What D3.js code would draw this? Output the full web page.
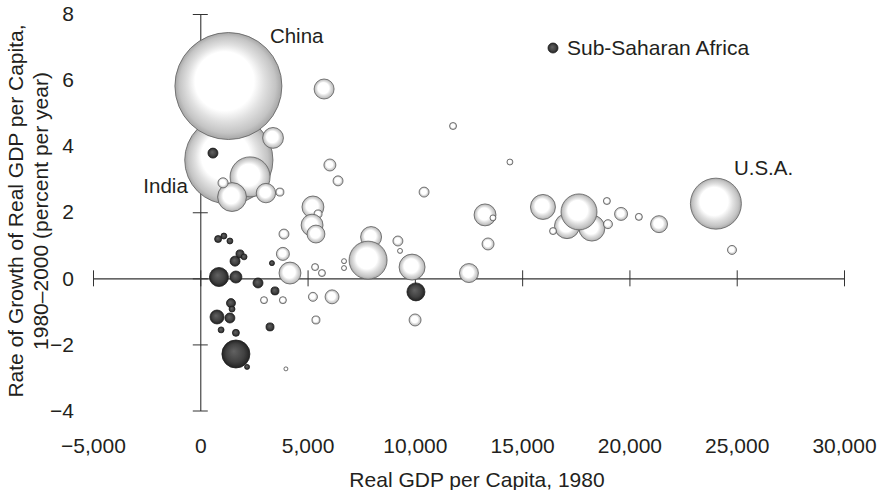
<!DOCTYPE html>
<html><head><meta charset="utf-8">
<script src="https://cdn.jsdelivr.net/npm/d3@7"></script>
<style>
body{margin:0;background:#fff}
svg{display:block}
text{font-family:"Liberation Sans",Arial,Helvetica,sans-serif;fill:#231f20}
</style>
</head><body>
<svg id="chart" width="879" height="490"></svg>
<script>
// ---- data ----
const xTickValues = [-5000, 0, 5000, 10000, 15000, 20000, 25000, 30000];
const yTickValues = [-4, -2, 0, 2, 4, 6, 8];
// Real GDP per capita 1980 (US$)
const gdp1980 = [1330, 1310, 3390, 2320, 1480, 1060, 3060, 3710, 5770, 6040,
  6420, 11780, 14430, 10430, 5250, 5490, 5210, 5390, 13270, 13640,
  13410, 3900, 3850, 4180, 5350, 5670, 6700, 6700, 7960, 7820,
  9210, 9310, 9870, 12520, 3850, 5250, 6140, 5390, 10010, 3990,
  2970, 15970, 17090, 18250, 17650, 16440, 18950, 19000, 19610, 20440,
  21380, 24030, 24780,
  590, 830, 1100, 1380, 1620, 1850, 2040, 870, 1660, 2690,
  3340, 3480, 1430, 1480, 780, 1380, 970, 1660, 3250, 1660,
  2180, 10050];
// growth of real GDP per capita 1980-2000 (% per year)
const growthRate = [3.58, 5.82, 4.25, 3.07, 2.46, 2.89, 2.58, 2.61, 5.73, 3.43,
  2.95, 4.61, 3.52, 2.61, 2.16, 1.95, 1.61, 1.34, 1.92, 1.83,
  1.04, 1.34, 0.74, 0.16, 0.34, 0.16, 0.52, 0.31, 1.25, 0.55,
  1.13, 0.83, 0.34, 0.16, -0.66, -0.56, -0.56, -1.26, -1.26, -2.74,
  -0.66, 2.16, 1.58, 1.52, 2.01, 1.43, 2.34, 1.64, 1.95, 1.86,
  1.64, 2.26, 0.86,
  3.79, 1.19, 1.28, 1.13, 0.52, 0.74, 0.65, 0.04, 0.04, -0.14,
  0.46, -0.38, -0.75, -0.93, -1.17, -1.20, -1.56, -1.65, -1.47, -2.29,
  -2.68, -0.41];
// population 1980 (millions) -> bubble area
const population = [680, 1000, 38, 140, 73, 9, 33, 5.6, 35, 12.6,
  8.7, 4.3, 3.1, 8.7, 42, 5.6, 42, 28, 42, 3.1,
  12.6, 8.7, 14.8, 42, 4.3, 4.3, 2.2, 2.2, 38.5, 126,
  8.7, 2.2, 59, 31.5, 4.3, 7.1, 17, 5.6, 12.6, 1.4,
  4.3, 54.6, 54.6, 59, 113, 4.3, 4.3, 7.1, 14.8, 4.3,
  25.2, 227, 7.1,
  8.7, 4.3, 3.1, 3.1, 8.7, 5.6, 3.1, 31.5, 12.6, 8.7,
  2.2, 5.6, 7.1, 3.1, 17, 8.7, 3.1, 4.3, 5.6, 68.5,
  2.2, 28.3];
// 1 = Sub-Saharan Africa
const subSaharan = [0,0,0,0,0,0,0,0,0,0, 0,0,0,0,0,0,0,0,0,0,
  0,0,0,0,0,0,0,0,0,0, 0,0,0,0,0,0,0,0,0,0,
  0,0,0,0,0,0,0,0,0,0, 0,0,0,
  1,1,1,1,1,1,1,1,1,1, 1,1,1,1,1,1,1,1,1,1, 1,1];
const labelNames = ["China", "India", "U.S.A."];
const labelIndex = [1, 0, 51];
const legendLabel = "Sub-Saharan Africa";
const xTitle = "Real GDP per Capita, 1980";
const yTitleLines = ["Rate of Growth of Real GDP per Capita,", "1980\u20132000 (percent per year)"];

const points = gdp1980.map((g, i) => ({gdp: g, growth: growthRate[i], pop: population[i], ssa: subSaharan[i]}));

// ---- chart ----
const svg = d3.select("#chart");
const x = d3.scaleLinear().domain([-5000, 30000]).range([93, 844]);
const y = d3.scaleLinear().domain([-4, 8]).range([410.5, 14]);
const r = d3.scaleSqrt().domain([0, 1000]).range([0, 53.5]);
const fmt = d3.format(",");

const defs = svg.append("defs");
const lg = defs.append("radialGradient").attr("id", "light")
  .attr("cx", "50%").attr("cy", "50%").attr("r", "50%").attr("fx", "42%").attr("fy", "40%");
[[0, "#ffffff"], [0.55, "#ffffff"], [0.72, "#e0e0e0"], [0.9, "#c4c4c4"], [1, "#a6a6a6"]]
  .forEach(s => lg.append("stop").attr("offset", s[0]).attr("stop-color", s[1]));
const dg = defs.append("radialGradient").attr("id", "dark")
  .attr("cx", "50%").attr("cy", "50%").attr("r", "50%").attr("fx", "42%").attr("fy", "40%");
[[0, "#626262"], [0.65, "#414141"], [1, "#222222"]]
  .forEach(s => dg.append("stop").attr("offset", s[0]).attr("stop-color", s[1]));

// axis lines through origin
const xLine = svg.append("g").attr("transform", `translate(0,${y(0)})`)
  .call(d3.axisBottom(x).tickValues(xTickValues).tickFormat("").tickSize(8).tickSizeOuter(0));
xLine.select(".domain").attr("stroke", "#333").attr("stroke-width", 1.1);
xLine.selectAll(".tick line").attr("y1", -8).attr("y2", 8).attr("stroke", "#333");

const yLine = svg.append("g").attr("transform", `translate(${x(0)},0)`)
  .call(d3.axisLeft(y).tickValues(yTickValues).tickFormat("").tickSize(7.5).tickSizeOuter(0));
yLine.select(".domain").attr("stroke", "#333").attr("stroke-width", 1.1);
yLine.selectAll(".tick line").attr("x1", -7.5).attr("x2", 7.5).attr("stroke", "#333");

// tick labels at the frame edges
const xLab = svg.append("g").attr("transform", "translate(0,435)")
  .call(d3.axisBottom(x).tickValues(xTickValues).tickFormat(fmt).tickSize(0).tickPadding(3));
xLab.select(".domain").remove();
xLab.selectAll("text").attr("font-size", 21).attr("font-family", null).style("fill", "#231f20");

const yLab = svg.append("g").attr("transform", "translate(77,0)")
  .call(d3.axisLeft(y).tickValues(yTickValues).tickFormat(fmt).tickSize(0).tickPadding(3));
yLab.select(".domain").remove();
yLab.selectAll("text").attr("font-size", 21).attr("font-family", null).style("fill", "#231f20");

// titles
svg.append("text").attr("x", 477).attr("y", 487).attr("text-anchor", "middle")
  .attr("font-size", 21).text(xTitle);
yTitleLines.forEach((t, i) => {
  svg.append("text").attr("transform", `translate(${23 + i * 25},211) rotate(-90)`)
    .attr("text-anchor", "middle").attr("font-size", 21).text(t);
});

// bubbles
svg.append("g").selectAll("circle").data(points).join("circle")
  .attr("cx", d => x(d.gdp)).attr("cy", d => y(d.growth)).attr("r", d => r(d.pop))
  .attr("fill", d => d.ssa ? "url(#dark)" : "url(#light)")
  .attr("stroke", d => d.ssa ? "#1e1e1e" : "#5e5e5e")
  .attr("stroke-width", 0.8);

// country labels
const labelOffsets = [["start", 41.5, -43], ["end", -41, 33], ["start", 18, -28.5]];
labelNames.forEach((name, k) => {
  const p = points[labelIndex[k]];
  const o = labelOffsets[k];
  svg.append("text").attr("x", x(p.gdp) + o[1]).attr("y", y(p.growth) + o[2])
    .attr("text-anchor", o[0]).attr("font-size", 20.5).text(name);
});

// legend
svg.append("circle").attr("cx", 553).attr("cy", 48).attr("r", 5)
  .attr("fill", "url(#dark)").attr("stroke", "#1e1e1e").attr("stroke-width", 0.8);
svg.append("text").attr("x", 567).attr("y", 55).attr("font-size", 21).text(legendLabel);
</script>
</body></html>
